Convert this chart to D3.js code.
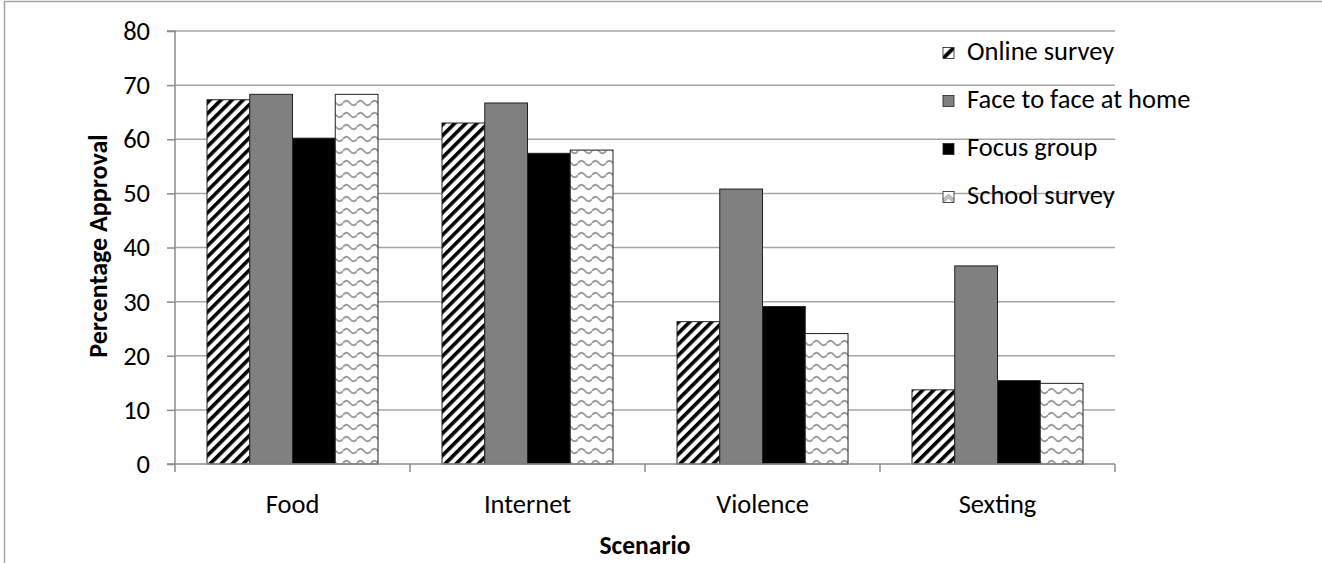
<!DOCTYPE html>
<html>
<head>
<meta charset="utf-8">
<script src="https://cdn.jsdelivr.net/npm/d3@7"></script>
<style>
  html, body { margin: 0; padding: 0; background: #fff; }
  svg { display: block; font-family: Carlito, Lato, "Open Sans", sans-serif; }
</style>
</head>
<body>
<svg id="chart" width="1322" height="563"></svg>
<script>
// Scenario categories and the four survey methods
const scenarios = ["Food", "Internet", "Violence", "Sexting"];
const methods = ["Online survey", "Face to face at home", "Focus group", "School survey"];

// Percentage approval per method, in scenario order
const onlineSurvey   = [67.3, 63.0, 26.3, 13.7];
const faceToFace     = [68.3, 66.7, 50.8, 36.6];
const focusGroup     = [60.2, 57.4, 29.1, 15.4];
const schoolSurvey   = [68.3, 58.0, 24.1, 14.9];

const yTicks = [0, 10, 20, 30, 40, 50, 60, 70, 80];

const seriesValues = [onlineSurvey, faceToFace, focusGroup, schoolSurvey];

const svg = d3.select("#chart");
const W = 1322, H = 563;
const plot = { left: 175, right: 1115, top: 31, bottom: 464 };
const labelSize = 26.5;

// Fill patterns
const defs = svg.append("defs");

const diag = defs.append("pattern")
  .attr("id", "diag")
  .attr("patternUnits", "userSpaceOnUse")
  .attr("width", 7.8).attr("height", 10)
  .attr("patternTransform", "rotate(45)");
diag.append("rect").attr("width", 7.8).attr("height", 10).attr("fill", "#fff");
diag.append("rect").attr("width", 3.6).attr("height", 10).attr("fill", "#000");

const wave = defs.append("pattern")
  .attr("id", "wave")
  .attr("patternUnits", "userSpaceOnUse")
  .attr("width", 14).attr("height", 12);
wave.append("rect").attr("width", 14).attr("height", 12).attr("fill", "#fff");
wave.append("path")
  .attr("d", "M0,7 Q3.5,2.5 7,7 T14,7")
  .attr("fill", "none").attr("stroke", "#9a9a9a").attr("stroke-width", 1.8);

const fills = ["url(#diag)", "#808080", "#000", "url(#wave)"];

// Outer frame
svg.append("line").attr("x1", 4).attr("x2", W).attr("y1", 1.5).attr("y2", 1.5)
  .attr("stroke", "#a6a6a6").attr("stroke-width", 1.5);
svg.append("line").attr("x1", 4.5).attr("x2", 4.5).attr("y1", 1).attr("y2", H)
  .attr("stroke", "#a6a6a6").attr("stroke-width", 1.5);

// Scales
const y = d3.scaleLinear().domain([0, 80]).range([plot.bottom, plot.top]);
const x0 = d3.scaleBand().domain(scenarios).range([plot.left, plot.right]).padding(0);
const groupW = 171;
const x1 = d3.scaleBand().domain(methods)
  .range([(x0.bandwidth() - groupW) / 2, (x0.bandwidth() + groupW) / 2]).padding(0);

// Gridlines
svg.append("g")
  .selectAll("line")
  .data(yTicks.filter(d => d > 0))
  .join("line")
  .attr("x1", plot.left).attr("x2", plot.right)
  .attr("y1", d => y(d)).attr("y2", d => y(d))
  .attr("stroke", "#a6a6a6").attr("stroke-width", 1.5);

// Y axis
const yAxis = svg.append("g")
  .attr("transform", `translate(${plot.left},0)`)
  .call(d3.axisLeft(y).tickValues(yTicks).tickSize(8).tickPadding(17));
yAxis.select(".domain").attr("stroke", "#8c8c8c").attr("stroke-width", 1.5)
  .attr("d", `M-8,${y(80)}H0V${y(0)}H-8`);
yAxis.selectAll(".tick line").attr("stroke", "#8c8c8c").attr("stroke-width", 1.5);
yAxis.selectAll(".tick text").attr("font-size", labelSize).attr("fill", "#000")
  .attr("font-family", "Carlito, Lato, sans-serif");

// Bars
const groups = svg.append("g")
  .selectAll("g")
  .data(scenarios)
  .join("g")
  .attr("transform", d => `translate(${x0(d)},0)`);

groups.selectAll("rect")
  .data((s, i) => methods.map((m, j) => ({ method: m, value: seriesValues[j][i], j })))
  .join("rect")
  .attr("x", d => x1(d.method))
  .attr("width", x1.bandwidth())
  .attr("y", d => y(d.value))
  .attr("height", d => y(0) - y(d.value))
  .attr("fill", d => fills[d.j])
  .attr("stroke", "#222")
  .attr("stroke-width", 1);

// X axis
const xAxis = svg.append("g")
  .attr("transform", `translate(0,${plot.bottom})`)
  .call(d3.axisBottom(x0).tickSize(0).tickPadding(30));
xAxis.select(".domain").attr("stroke", "#8c8c8c").attr("stroke-width", 1.5)
  .attr("d", `M${plot.left},0H${plot.right}`);
xAxis.selectAll(".tick text").attr("font-size", labelSize).attr("fill", "#000")
  .attr("font-family", "Carlito, Lato, sans-serif");
// Category boundary ticks
xAxis.append("g").selectAll("line")
  .data(scenarios.map(s => x0(s)).concat([plot.right]))
  .join("line")
  .attr("x1", d => d).attr("x2", d => d)
  .attr("y1", 0).attr("y2", 8)
  .attr("stroke", "#8c8c8c").attr("stroke-width", 1.5);

// Axis titles
svg.append("text")
  .attr("x", (plot.left + plot.right) / 2).attr("y", 548)
  .attr("text-anchor", "middle").attr("dominant-baseline", "middle")
  .attr("font-size", 25.5).attr("font-weight", "bold")
  .text("Scenario");

svg.append("text")
  .attr("transform", `translate(101,246) rotate(-90)`)
  .attr("text-anchor", "middle").attr("dominant-baseline", "middle")
  .attr("font-size", 26).attr("font-weight", "bold")
  .text("Percentage Approval");

// Legend
const legendPat = defs.append("pattern")
  .attr("id", "legendDiag")
  .attr("patternUnits", "objectBoundingBox")
  .attr("patternContentUnits", "objectBoundingBox")
  .attr("width", 1).attr("height", 1);
legendPat.append("rect").attr("width", 1).attr("height", 1).attr("fill", "#fff");
legendPat.append("path").attr("d", "M0,0.75 L0.75,0 L1,0 L1,0.25 L0.25,1 L0,1 Z").attr("fill", "#000");

const legendWave = defs.append("pattern")
  .attr("id", "legendWave")
  .attr("patternUnits", "objectBoundingBox")
  .attr("patternContentUnits", "objectBoundingBox")
  .attr("width", 1).attr("height", 1);
legendWave.append("rect").attr("width", 1).attr("height", 1).attr("fill", "#fff");
legendWave.append("path").attr("d", "M0,0.75 L0.5,0.3 L1,0.75 M0,1 L0.5,0.55 L1,1")
  .attr("fill", "none").attr("stroke", "#9a9a9a").attr("stroke-width", 0.12);

const legendFills = ["url(#legendDiag)", "#808080", "#000", "url(#legendWave)"];
const legend = svg.append("g")
  .selectAll("g")
  .data(methods)
  .join("g")
  .attr("transform", (d, i) => `translate(943,${53 + i * 48})`);
legend.append("rect")
  .attr("x", 0).attr("y", -5.5).attr("width", 11).attr("height", 11)
  .attr("fill", (d, i) => legendFills[i])
  .attr("stroke", "#222").attr("stroke-width", 0.8);
legend.append("text")
  .attr("x", 24).attr("y", 1)
  .attr("dominant-baseline", "middle")
  .attr("font-size", labelSize)
  .text(d => d);
</script>
</body>
</html>
